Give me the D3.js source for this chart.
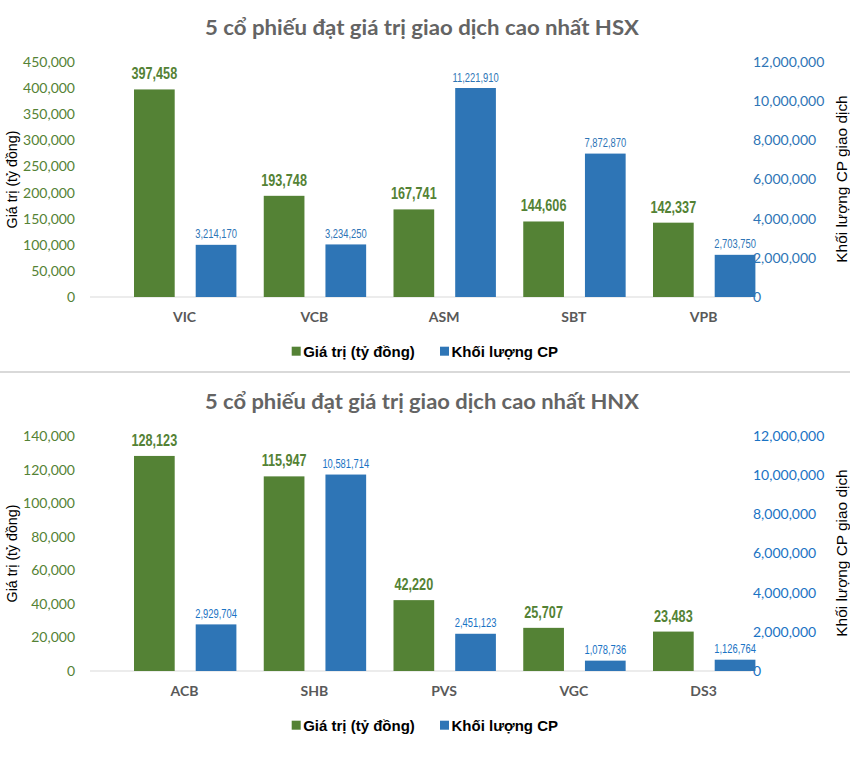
<!DOCTYPE html>
<html>
<head>
<meta charset="utf-8">
<script src="https://cdn.jsdelivr.net/npm/d3@7"></script>
<style>
  html, body { margin: 0; padding: 0; background: #fff; }
  svg { display: block; }
</style>
</head>
<body>
<svg id="chart" width="850" height="773"></svg>
<script>
// ---------- data ----------
const hsxTitle = "5 cổ phiếu đạt giá trị giao dịch cao nhất HSX";
const hsxCategories = ["VIC", "VCB", "ASM", "SBT", "VPB"];
const hsxValue = [397458, 193748, 167741, 144606, 142337];
const hsxVolume = [3214170, 3234250, 11221910, 7872870, 2703750];
const hsxValueTicks = [0, 50000, 100000, 150000, 200000, 250000, 300000, 350000, 400000, 450000];

const hnxTitle = "5 cổ phiếu đạt giá trị giao dịch cao nhất HNX";
const hnxCategories = ["ACB", "SHB", "PVS", "VGC", "DS3"];
const hnxValue = [128123, 115947, 42220, 25707, 23483];
const hnxVolume = [2929704, 10581714, 2451123, 1078736, 1126764];
const hnxValueTicks = [0, 20000, 40000, 60000, 80000, 100000, 120000, 140000];

const volumeTicks = [0, 2000000, 4000000, 6000000, 8000000, 10000000, 12000000];
// the volume bars in the source sit on a hidden floor of about 550,000
const volumeBarFloor = 550000;

const seriesNames = ["Giá trị (tỷ đồng)", "Khối lượng CP"];
const leftAxisTitle = "Giá trị (tỷ đồng)";
const rightAxisTitle = "Khối lượng CP giao dịch";

// ---------- drawing ----------
const svg = d3.select("#chart");
const fmt = d3.format(",");
const GREEN = "#548235";
const BLUE = "#2e75b6";

// emulate a narrow face by compressing Liberation Sans horizontally
function narrow(sel, ratio) {
  sel.each(function () {
    const w = this.getComputedTextLength();
    d3.select(this).attr("textLength", w * ratio).attr("lengthAdjust", "spacingAndGlyphs");
  });
}

function panel(offsetY, title, cats, vals, vols, valTicks, blueText) {
  const g = svg.append("g").attr("transform", `translate(0,${offsetY})`);
  const top = 62, bottom = 297;

  const x = d3.scaleBand().domain(cats).range([120.5, 769.25]).paddingInner(0).paddingOuter(0);
  const yL = d3.scaleLinear().domain([0, d3.max(valTicks)]).range([bottom, top]);
  const yR = d3.scaleLinear().domain([0, d3.max(volumeTicks)]).range([bottom, top]);
  const yRBar = d3.scaleLinear().domain([volumeBarFloor, volumeBarFloor + d3.max(volumeTicks)]).range([bottom, top]);
  const bw = 40.7;

  // title
  g.append("text")
    .attr("x", 422).attr("y", 35)
    .attr("text-anchor", "middle")
    .attr("font-family", "Lato, 'Open Sans', sans-serif")
    .attr("font-weight", "bold")
    .attr("font-size", 21)
    .attr("fill", "#646464")
    .attr("textLength", 434)
    .attr("lengthAdjust", "spacingAndGlyphs")
    .text(title);

  // left axis
  const axL = d3.axisLeft(yL).tickValues(valTicks).tickFormat(fmt).tickSize(0).tickPadding(0);
  const gL = g.append("g").attr("transform", "translate(75,0)").call(axL);
  gL.select(".domain").remove();
  gL.selectAll("text")
    .attr("font-family", "Lato, sans-serif").attr("font-size", 14)
    .attr("fill", GREEN);

  // right axis
  const axR = d3.axisRight(yR).tickValues(volumeTicks).tickFormat(fmt).tickSize(0).tickPadding(0);
  const gR = g.append("g").attr("transform", "translate(753,0)").call(axR);
  gR.select(".domain").remove();
  gR.selectAll("text")
    .attr("font-family", "Lato, sans-serif").attr("font-size", 14)
    .attr("fill", blueText);

  // baseline
  g.append("line")
    .attr("x1", 90).attr("x2", 751).attr("y1", yL(0)).attr("y2", yL(0))
    .attr("stroke", "#d9d9d9").attr("stroke-width", 1.2);

  // green bars
  g.selectAll(".gbar").data(cats).enter().append("rect")
    .attr("x", d => x(d) + 13.5)
    .attr("width", bw)
    .attr("y", (d, i) => yL(vals[i]))
    .attr("height", (d, i) => yL(0) - yL(vals[i]))
    .attr("fill", GREEN);

  // blue bars
  g.selectAll(".bbar").data(cats).enter().append("rect")
    .attr("x", d => x(d) + 75.2)
    .attr("width", bw)
    .attr("y", (d, i) => yRBar(vols[i]))
    .attr("height", (d, i) => yRBar(volumeBarFloor) - yRBar(vols[i]))
    .attr("fill", BLUE);

  // green labels
  g.selectAll(".glab").data(cats).enter().append("text")
    .attr("x", d => x(d) + 13.5 + bw / 2)
    .attr("y", (d, i) => yL(vals[i]) - 10)
    .attr("text-anchor", "middle")
    .attr("font-family", "'Liberation Sans', Arial, sans-serif")
    .attr("font-weight", "bold")
    .attr("font-size", 16.2)
    .attr("fill", GREEN)
    .text((d, i) => fmt(vals[i]))
    .call(narrow, 0.78);

  // blue labels
  g.selectAll(".blab").data(cats).enter().append("text")
    .attr("x", d => x(d) + 75.2 + bw / 2)
    .attr("y", (d, i) => yRBar(vols[i]) - 6.5)
    .attr("text-anchor", "middle")
    .attr("font-family", "'Liberation Sans', Arial, sans-serif")
    .attr("font-size", 12)
    .attr("fill", blueText)
    .text((d, i) => fmt(vols[i]))
    .call(narrow, 0.78);

  // category labels
  g.selectAll(".clab").data(cats).enter().append("text")
    .attr("x", d => x(d) + x.bandwidth() / 2 - 0.8)
    .attr("y", 321.7)
    .attr("text-anchor", "middle")
    .attr("font-family", "Lato, sans-serif")
    .attr("font-weight", "bold")
    .attr("font-size", 14)
    .attr("fill", "#595959")
    .text(d => d);

  // axis titles
  g.append("text")
    .attr("transform", `translate(16.5,179.5) rotate(-90)`)
    .attr("text-anchor", "middle")
    .attr("font-family", "'Liberation Sans', Arial, sans-serif")
    .attr("font-size", 14.2)
    .attr("fill", "#000")
    .text(leftAxisTitle);
  g.append("text")
    .attr("transform", `translate(846.5,179) rotate(-90)`)
    .attr("text-anchor", "middle")
    .attr("font-family", "'Liberation Sans', Arial, sans-serif")
    .attr("font-size", 15.4)
    .attr("fill", "#000")
    .text(rightAxisTitle);

  // legend
  const legend = [
    { name: seriesNames[0], color: GREEN, x: 291.7 },
    { name: seriesNames[1], color: BLUE, x: 440 }
  ];
  legend.forEach(l => {
    g.append("rect").attr("x", l.x).attr("y", 346.7).attr("width", 9).attr("height", 9).attr("fill", l.color);
    g.append("text")
      .attr("x", l.x + 11.5).attr("y", 356.6)
      .attr("font-family", "'Liberation Sans', Arial, sans-serif")
      .attr("font-weight", "bold")
      .attr("font-size", 15)
      .attr("fill", "#000")
      .text(l.name);
  });
}

panel(0, hsxTitle, hsxCategories, hsxValue, hsxVolume, hsxValueTicks, "#2e75b6");
panel(374, hnxTitle, hnxCategories, hnxValue, hnxVolume, hnxValueTicks, "#1a73c4");

// separator between the two charts
svg.append("line")
  .attr("x1", 0).attr("x2", 850).attr("y1", 372).attr("y2", 372)
  .attr("stroke", "#d9d9d9").attr("stroke-width", 2);
</script>
</body>
</html>
